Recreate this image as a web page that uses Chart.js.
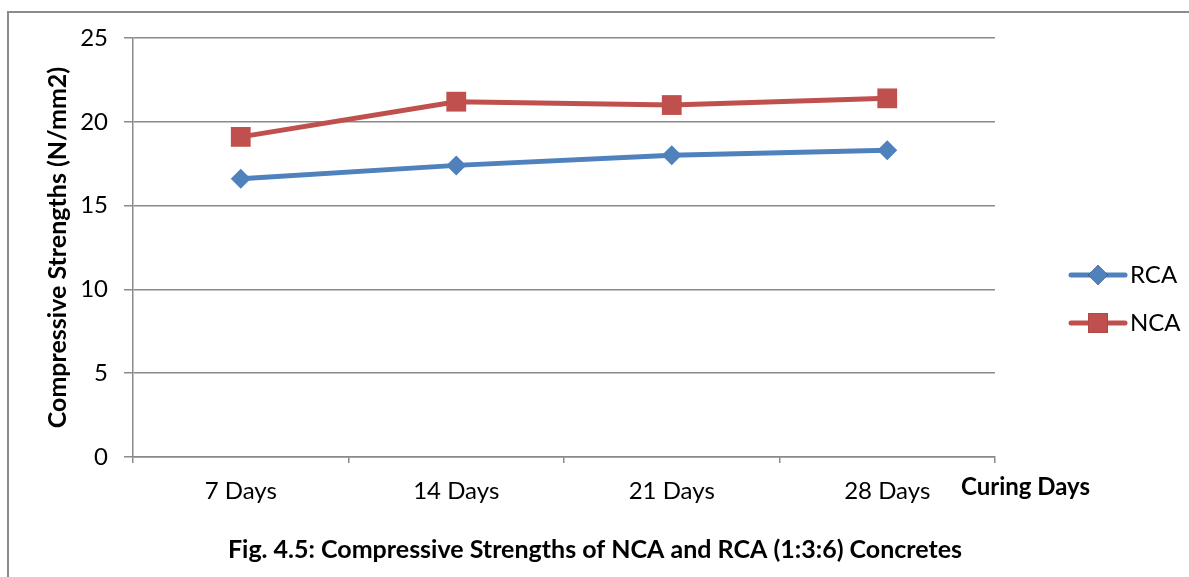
<!DOCTYPE html>
<html>
<head>
<meta charset="utf-8">
<script src="https://cdn.jsdelivr.net/npm/chart.js@4.4.1/dist/chart.umd.min.js"></script>
<style>
  html, body { margin: 0; padding: 0; background: #fff; }
</style>
</head>
<body>
<canvas id="chart" width="1189" height="577"></canvas>
<script>
// data
const days = ["7 Days", "14 Days", "21 Days", "28 Days"];
const rcaValues = [16.6, 17.4, 18.0, 18.3];
const ncaValues = [19.1, 21.2, 21.0, 21.4];
const yMin = 0, yMax = 25, yStep = 5;

const yTitle = "Compressive Strengths (N/mm2)";
const xTitle = "Curing Days";
const caption = "Fig. 4.5: Compressive Strengths of NCA and RCA (1:3:6) Concretes";

const FONT = "Lato";
const gridColor = "#8a8a8a";

// frame, legend and the extra labels Excel puts outside the plot
const extras = {
  id: "extras",
  afterDraw(chart) {
    const ctx = chart.ctx;
    ctx.save();
    // frame (only left/top visible in the crop)
    ctx.strokeStyle = "#8c8c8c";
    ctx.lineWidth = 2;
    ctx.beginPath();
    ctx.moveTo(8, 577);
    ctx.lineTo(8, 12);
    ctx.lineTo(1189, 12);
    ctx.stroke();

    // legend
    const items = [
      { ds: chart.data.datasets[0], y: 275 },
      { ds: chart.data.datasets[1], y: 323 }
    ];
    items.forEach((it) => {
      ctx.strokeStyle = it.ds.borderColor;
      ctx.lineWidth = 5;
      ctx.lineCap = "round";
      ctx.beginPath();
      ctx.moveTo(1071, it.y);
      ctx.lineTo(1125, it.y);
      ctx.stroke();
      Chart.helpers.drawPoint(ctx, {
        pointStyle: it.ds.pointStyle,
        radius: it.ds.pointRadius,
        borderWidth: 0
      }, 1098, it.y);
      ctx.fillStyle = it.ds.pointBackgroundColor;
      ctx.fill();
      ctx.fillStyle = "#000";
      ctx.font = "24px " + FONT;
      ctx.textBaseline = "middle";
      ctx.textAlign = "left";
      ctx.fillText(it.ds.label, 1130, it.y);
    });

    // x axis title and caption
    ctx.fillStyle = "#000";
    ctx.textBaseline = "alphabetic";
    ctx.font = "bold 24px " + FONT;
    ctx.textAlign = "left";
    ctx.fillText(xTitle, 961, 495);
    ctx.font = "bold 25px " + FONT;
    ctx.textAlign = "center";
    ctx.fillText(caption, 595, 558);
    ctx.restore();
  }
};

new Chart(document.getElementById("chart"), {
  type: "line",
  data: {
    labels: days,
    datasets: [
      {
        label: "RCA",
        data: rcaValues,
        borderColor: "#4F81BD",
        backgroundColor: "#4F81BD",
        pointBackgroundColor: "#4F81BD",
        pointBorderColor: "#4F81BD",
        borderWidth: 5,
        pointStyle: "rectRot",
        pointRadius: 10,
        pointBorderWidth: 0,
        tension: 0
      },
      {
        label: "NCA",
        data: ncaValues,
        borderColor: "#C0504D",
        backgroundColor: "#C0504D",
        pointBackgroundColor: "#C0504D",
        pointBorderColor: "#C0504D",
        borderWidth: 5,
        pointStyle: "rect",
        pointRadius: 14,
        pointBorderWidth: 0,
        tension: 0
      }
    ]
  },
  options: {
    responsive: false,
    animation: false,
    devicePixelRatio: 1,
    layout: { padding: { top: 38, left: 0, right: 194, bottom: 0 } },
    plugins: {
      legend: { display: false },
      tooltip: { enabled: false }
    },
    scales: {
      x: {
        offset: true,
        afterFit: (s) => { s.height = 120; },
        grid: {
          offset: true,
          drawOnChartArea: false,
          color: gridColor,
          lineWidth: 1.5,
          tickLength: 6
        },
        border: { color: gridColor, width: 1.5 },
        ticks: { color: "#000", font: { family: FONT, size: 24 }, padding: 14 }
      },
      y: {
        min: yMin,
        max: yMax,
        afterFit: (s) => { s.width = 133; },
        grid: { color: gridColor, lineWidth: 1.5, tickLength: 9 },
        border: { color: gridColor, width: 1.5 },
        ticks: { stepSize: yStep, color: "#000", font: { family: FONT, size: 24 }, padding: 16 },
        title: {
          display: true,
          text: yTitle,
          color: "#000",
          font: { family: FONT, size: 25, weight: "bold" },
          padding: { top: 43, bottom: 0 }
        }
      }
    }
  },
  plugins: [extras]
});
</script>
</body>
</html>
